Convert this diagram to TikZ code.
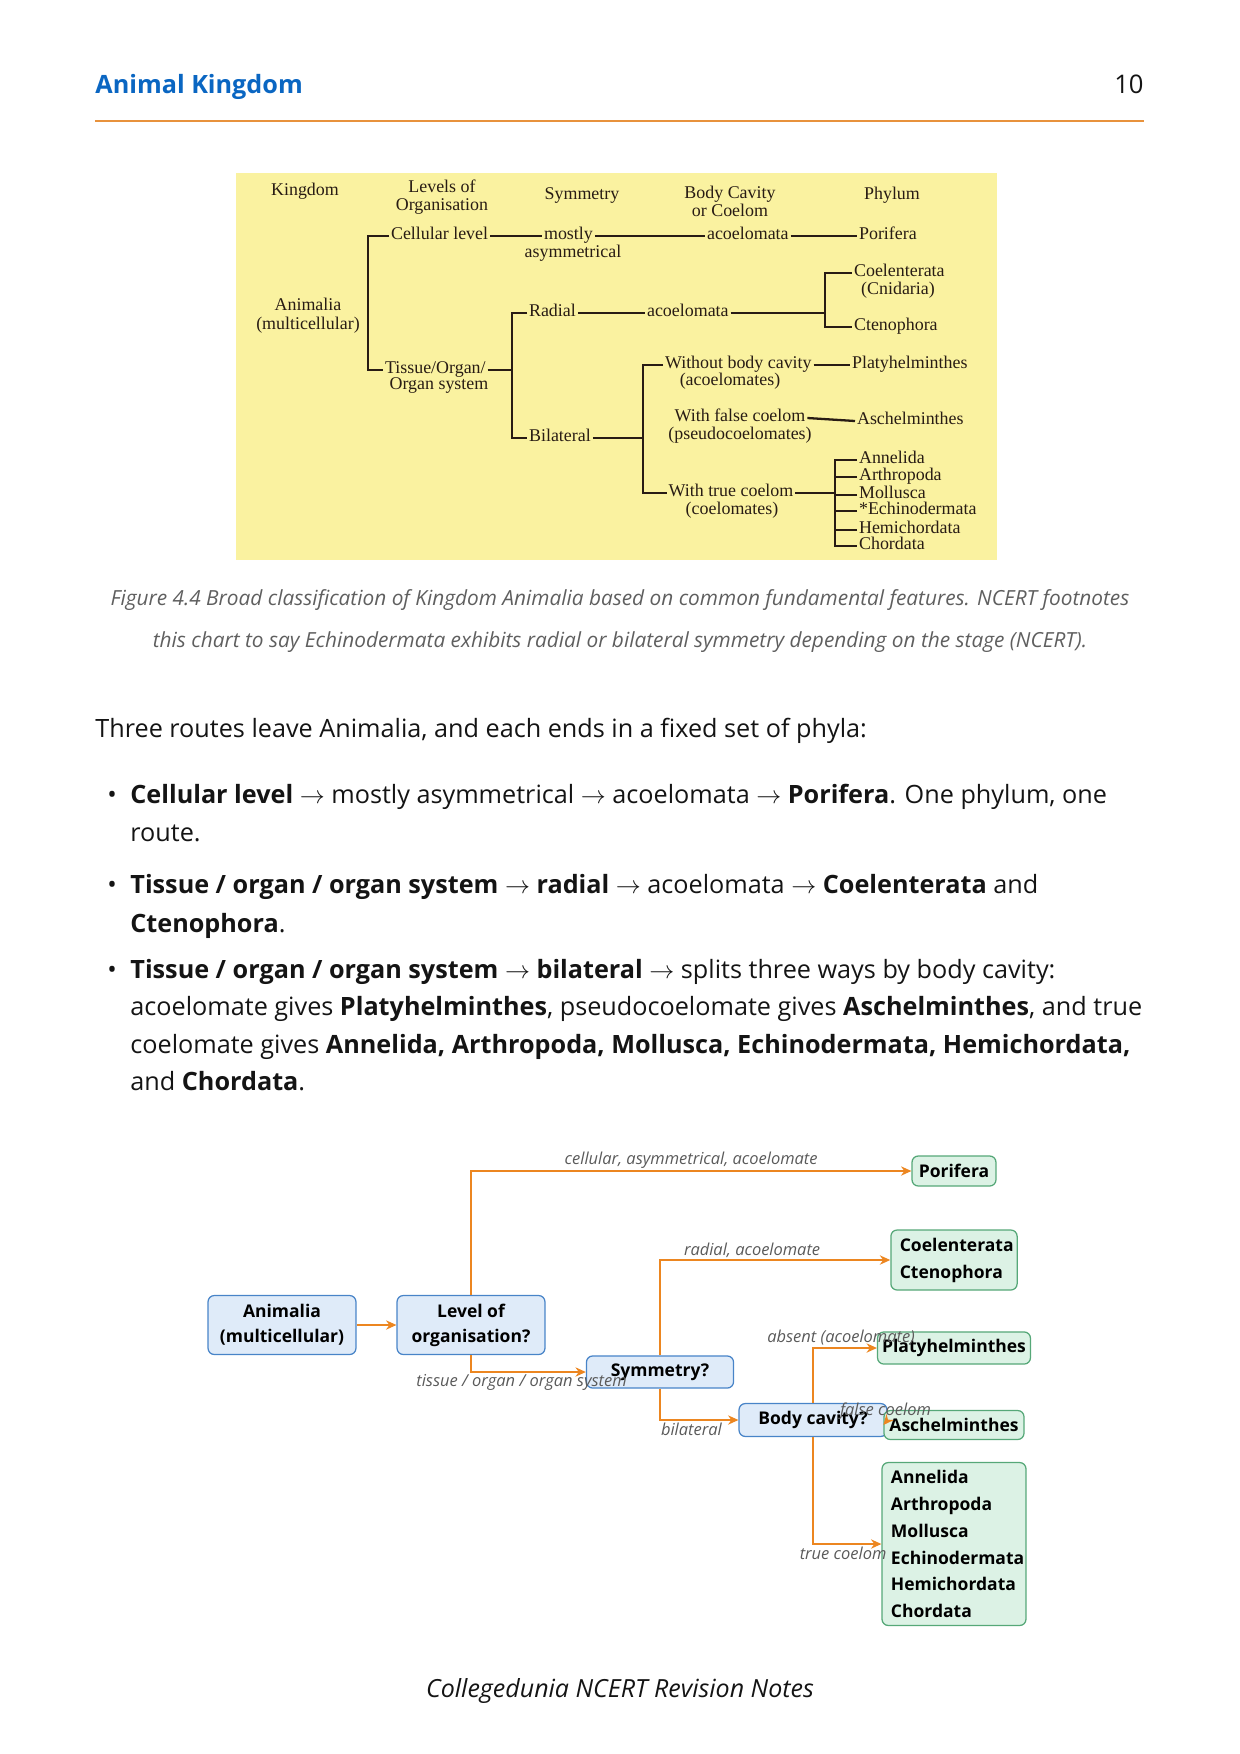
\documentclass[tikz,border=0pt]{standalone}
\usepackage{fontspec}
\setmainfont{Open Sans}
\newfontfamily\chartfont{Liberation Serif}
\usepackage{xcolor}
\usepackage{tikz}
\usetikzlibrary{positioning, arrows.meta}

\begin{document}
\begin{tikzpicture}[x=0.48pt, y=-0.48pt,
  chart/.style={font=\chartfont\fontsize{8.6}{8.6}\selectfont, text=chartink, inner xsep=0.8pt, inner ysep=0pt, text height=5.6pt, text depth=2.5pt},
  chartnote/.style={font=\chartfont\fontsize{8.6}{8.6}\selectfont, text=chartink, inner sep=0pt, align=center},
  chartline/.style={draw=chartink, line width=1.1pt},
  bodytext/.style={anchor=base west, inner sep=0pt, font=\fontsize{12.1}{18}\selectfont, text=bodyink},
  captiontext/.style={anchor=base, inner sep=0pt, font=\fontsize{10}{12}\selectfont\itshape, text=capgray},
  question/.style={draw=qdraw, fill=qfill, rounded corners=3pt, line width=0.6pt, inner sep=0pt, align=center, font=\fontsize{8.4}{12}\selectfont\bfseries},
  phylum/.style={draw=pdraw, fill=pfill, rounded corners=3pt, line width=0.6pt, inner sep=0pt, align=left, font=\fontsize{8.4}{12.9}\selectfont\bfseries},
  route/.style={draw=flowarrow, line width=0.6pt, -{Stealth[length=5pt, width=4.5pt]}},
  routelabel/.style={font=\fontsize{7.9}{9}\selectfont\itshape, text=flowlabel, inner sep=1pt}]

% Define colors
\definecolor{headblue}{RGB}{10,102,194}
\definecolor{ruleorange}{RGB}{232,146,60}
\definecolor{chartyellow}{RGB}{250,242,160}
\definecolor{chartink}{RGB}{40,28,20}
\definecolor{bodyink}{RGB}{20,20,20}
\definecolor{capgray}{RGB}{95,95,95}
\definecolor{qfill}{RGB}{223,235,249}
\definecolor{qdraw}{RGB}{72,132,200}
\definecolor{pfill}{RGB}{220,242,229}
\definecolor{pdraw}{RGB}{86,168,120}
\definecolor{flowarrow}{RGB}{236,134,32}
\definecolor{flowlabel}{RGB}{90,90,90}

% Page (A4, in pixels)
\useasboundingbox (0,0) rectangle (1240,1754);

% Running head
\node[anchor=base west, inner sep=0pt, font=\fontsize{12.1}{15}\selectfont\bfseries, text=headblue] (head) at (95,93) {Animal Kingdom};
\node[anchor=base east, inner sep=0pt, font=\fontsize{12.3}{15}\selectfont, text=bodyink] (pageno) at (1144,93) {10};
\draw[ruleorange, line width=1pt] (95,121) -- (1144,121);

% NCERT chart
\fill[chartyellow] (236,173) rectangle (997,560);

% column heads
\node[chartnote] (hkingdom) at (305,191) {Kingdom};
\node[chartnote] (hlevel) at (442,197) {Levels of\\Organisation};
\node[chartnote] (hsym) at (582,195) {Symmetry};
\node[chartnote] (hcavity) at (730,201) {Body Cavity\\or Coelom};
\node[chartnote] (hphylum) at (892,195) {Phylum};
\node[chartnote] (animalia) at (308,316) {Animalia\\[0.5pt](multicellular)};

% Levels of organisation
\node[chart, anchor=west] (cell) at (389,236) {Cellular level};
\node[chart, anchor=west] (tis) at (383,370) {Tissue/Organ/};
\node[chart] (tis2) at (439,386) {Organ system};
\coordinate (lvspine) at (368,300);
\draw[chartline] (cell.west) -| (lvspine) |- (tis.west);

% Symmetry
\node[chart, anchor=west] (mostly) at (542,236) {mostly};
\node[chart] (asym) at (573,254) {asymmetrical};
\draw[chartline] (cell.east) -- (mostly.west);
\node[chart, anchor=west] (radial) at (527,313) {Radial};
\node[chart, anchor=west] (bilat) at (527,438) {Bilateral};
\coordinate (symspine) at (512,372);
\draw[chartline] (radial.west) -| (symspine) |- (bilat.west);
\draw[chartline] (tis.east) -- (tis.east -| symspine);

% Body cavity
\node[chart, anchor=west] (acoel1) at (705,236) {acoelomata};
\draw[chartline] (mostly.east) -- (acoel1.west);
\node[chart, anchor=west] (acoel2) at (645,313) {acoelomata};
\draw[chartline] (radial.east) -- (acoel2.west);
\node[chart, anchor=west] (nobody) at (663,365) {Without body cavity};
\node[chart] (nobody2) at (730,382) {(acoelomates)};
\node[chart] (falsec) at (740,418) {With false coelom};
\node[chart] (falsec2) at (740,436) {(pseudocoelomates)};
\node[chart] (truec) at (731,493) {With true coelom};
\node[chart] (truec2) at (732,511) {(coelomates)};
\coordinate (bilspine) at (643,430);
\draw[chartline] (nobody.west) -| (bilspine) |- (truec.west);
\draw[chartline] (bilat.east) -- (bilat.east -| bilspine);

% Phylum
\node[chart, anchor=west] (pori) at (857,236) {Porifera};
\draw[chartline] (acoel1.east) -- (pori.west);
\node[chart, anchor=west] (coelent) at (852,273) {Coelenterata};
\node[chart] (cnid) at (898,291) {(Cnidaria)};
\node[chart, anchor=west] (cteno) at (852,327) {Ctenophora};
\coordinate (radspine) at (825,300);
\draw[chartline] (coelent.west) -| (radspine) |- (cteno.west);
\draw[chartline] (acoel2.east) -- (acoel2.east -| radspine);
\node[chart, anchor=west] (platy) at (850,365) {Platyhelminthes};
\draw[chartline] (nobody.east) -- (platy.west);
\node[chart, anchor=west] (asch) at (855,421) {Aschelminthes};
\draw[chartline] (falsec.east) -- (asch.west);

\foreach \name/\y/\txt in {annel/460/Annelida, arthro/477/Arthropoda, moll/495/Mollusca, echino/511/*Echinodermata, hemi/530/Hemichordata, chord/546/Chordata}
  \node[chart, anchor=west] (\name) at (857,\y) {\txt};
\coordinate (cspine) at (835,500);
\draw[chartline] (annel.west) -| (cspine) |- (chord.west);
\foreach \name in {arthro, moll, echino, hemi}
  \draw[chartline] (\name.west) -- (\name.west -| cspine);
\draw[chartline] (truec.east) -- (truec.east -| cspine);

% Caption
\node[captiontext] (cap1) at (620,605) {Figure 4.4 Broad classification of Kingdom Animalia based on common fundamental features. NCERT footnotes};
\node[captiontext] (cap2) at (620,647) {this chart to say Echinodermata exhibits radial or bilateral symmetry depending on the stage (NCERT).};

% Body text
\node[bodytext] (intro) at (95,737) {Three routes leave Animalia, and each ends in a fixed set of phyla:};

\node[bodytext, anchor=base] (dot1) at (112,803) {\textbullet};
\node[bodytext] (item1a) at (130,803) {\textbf{Cellular level} $\rightarrow$ mostly asymmetrical $\rightarrow$ acoelomata $\rightarrow$ \textbf{Porifera}. One phylum, one};
\node[bodytext] (item1b) at (130,841) {route.};

\node[bodytext, anchor=base] (dot2) at (112,893) {\textbullet};
\node[bodytext] (item2a) at (130,893) {\textbf{Tissue / organ / organ system} $\rightarrow$ \textbf{radial} $\rightarrow$ acoelomata $\rightarrow$ \textbf{Coelenterata} and};
\node[bodytext] (item2b) at (130,932) {\textbf{Ctenophora}.};

\node[bodytext, anchor=base] (dot3) at (112,978) {\textbullet};
\node[bodytext] (item3a) at (130,978) {\textbf{Tissue / organ / organ system} $\rightarrow$ \textbf{bilateral} $\rightarrow$ splits three ways by body cavity:};
\node[bodytext] (item3b) at (130,1015) {acoelomate gives \textbf{Platyhelminthes}, pseudocoelomate gives \textbf{Aschelminthes}, and true};
\node[bodytext] (item3c) at (130,1053) {coelomate gives \textbf{Annelida, Arthropoda, Mollusca, Echinodermata, Hemichordata,}};
\node[bodytext] (item3d) at (130,1090) {and \textbf{Chordata}.};

% Decision chart
\node[question, minimum width=71pt, minimum height=28.3pt] (anim) at (282,1325) {Animalia\\(multicellular)};
\node[question, minimum width=71pt, minimum height=28.3pt] (level) at (471,1325) {Level of\\organisation?};
\node[question, minimum width=70.6pt, minimum height=15.4pt] (sym) at (660,1372) {Symmetry?};
\node[question, minimum width=71pt, minimum height=15.8pt] (body) at (813,1420) {Body cavity?};

\node[phylum, align=center, minimum width=40.3pt, minimum height=14.4pt] (porifera) at (954,1171) {Porifera};
\node[phylum, text width=52pt, inner xsep=4.3pt, minimum height=28.8pt] (radialphyla) at (954,1260) {Coelenterata\\Ctenophora};
\node[phylum, align=center, minimum width=73.4pt, minimum height=15.4pt] (platyhel) at (954,1348) {Platyhelminthes};
\node[phylum, align=center, minimum width=67.2pt, minimum height=13.9pt] (aschel) at (954,1425) {Aschelminthes};
\node[phylum, text width=60.5pt, inner xsep=4.3pt, minimum height=78.2pt] (coelomphyla) at (954,1544) {Annelida\\Arthropoda\\Mollusca\\Echinodermata\\Hemichordata\\Chordata};

\draw[route] (anim) -- (level);
\draw[route] (level.north) |- (porifera.west) node[routelabel, pos=0.75, above] {cellular, asymmetrical, acoelomate};
\draw[route] (level.south) |- (sym.west) node[routelabel, pos=0.72, below] {tissue / organ / organ system};
\draw[route] (sym.north) |- (radialphyla.west) node[routelabel, pos=0.70, above] {radial, acoelomate};
\draw[route] (sym.south) |- (body.west) node[routelabel, pos=0.70, below] {bilateral};
\draw[route] (body.north) |- (platyhel.west) node[routelabel, pos=0.72, above] {absent (acoelomate)};
\draw[route] (body.east) -- (aschel.west) node[routelabel, midway, above] {false coelom};
\draw[route] (body.south) |- (coelomphyla.west) node[routelabel, pos=0.72, below] {true coelom};

% Footer
\node[anchor=base, inner sep=0pt, font=\fontsize{12}{15}\selectfont\itshape, text=bodyink] (footer) at (620,1697) {Collegedunia NCERT Revision Notes};

\end{tikzpicture}
\end{document}
